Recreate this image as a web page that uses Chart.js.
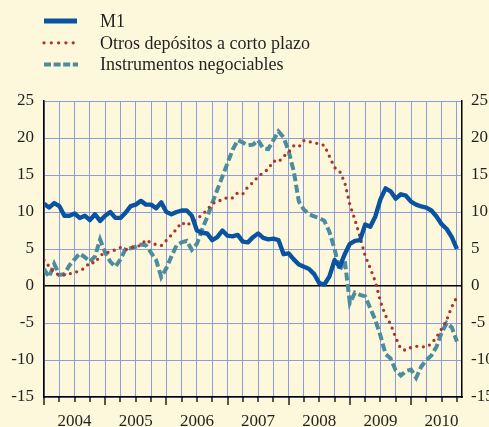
<!DOCTYPE html>
<html>
<head>
<meta charset="utf-8">
<script src="https://cdn.jsdelivr.net/npm/chart.js@4/dist/chart.umd.min.js"></script>
<style>
	body { margin: 0; background: #fdf8dc; }
	canvas { display: block; }
</style>
</head>
<body>
<canvas id="chart" width="489" height="427"></canvas>
<script>
// monthly data, Jan 2004 .. Oct 2010 (x = month index)
const years = ['2004', '2005', '2006', '2007', '2008', '2009', '2010'];
const yTicks = [-15, -10, -5, 0, 5, 10, 15, 20, 25];
const seriesNames = ['M1', 'Otros depósitos a corto plazo', 'Instrumentos negociables'];

const m1 = [
	11.1, 10.6, 11.2, 10.8, 9.5, 9.5, 9.8, 9.2, 9.5, 8.9, 9.7, 8.8,
	9.5, 10.0, 9.2, 9.2, 9.9, 10.8, 11.0, 11.5, 11.0, 11.0, 10.5, 11.3,
	10.0, 9.7, 10.0, 10.2, 10.2, 9.5, 7.5, 7.2, 7.1, 6.2, 6.6, 7.5,
	6.8, 6.7, 6.9, 6.0, 5.9, 6.6, 7.1, 6.5, 6.3, 6.4, 6.2, 4.3,
	4.4, 3.6, 2.9, 2.6, 2.3, 1.6, 0.4, 0.2, 1.3, 3.5, 2.6, 4.3,
	5.7, 6.1, 6.2, 8.3, 8.0, 9.4, 11.7, 13.2, 12.8, 11.8, 12.4, 12.2,
	11.4, 11.0, 10.75, 10.6, 10.2, 9.4, 8.35, 7.7, 6.6, 5.0
];
const otros = [
	3.5, 2.65, 1.85, 1.45, 1.5, 1.65, 1.8, 2.1, 2.4, 3.2, 3.1, 4.1,
	4.5, 4.6, 4.9, 5.2, 4.9, 5.2, 5.3, 5.5, 6.25, 5.8, 5.6, 5.45,
	6.15, 6.9, 7.7, 8.6, 8.15, 8.7, 9.1, 9.6, 10.3, 11.1, 11.5, 11.6,
	12.0, 11.9, 12.6, 12.45, 13.4, 14.0, 14.8, 15.3, 15.8, 16.9, 16.75, 17.5,
	18.1, 18.95, 18.8, 19.65, 19.5, 19.35, 19.2, 19.0, 17.5, 16.0, 15.5, 14.0,
	11.0, 8.95, 6.6, 4.1, 2.4, 0.6, -2.1, -4.0, -5.15, -7.0, -8.5, -8.7,
	-8.3, -8.15, -8.2, -8.25, -7.8, -6.9, -5.8, -4.6, -2.8, -1.5
];
const instrumentos = [
	2.3, 1.2, 3.0, 1.5, 1.6, 2.8, 3.6, 4.4, 3.9, 3.3, 4.0, 6.3,
	4.5, 3.3, 2.6, 3.6, 5.0, 5.1, 5.3, 5.6, 5.5, 4.5, 3.5, 1.2,
	2.4, 4.0, 5.5, 5.9, 6.1, 4.9, 5.7, 7.6, 9.3, 11.2, 13.0, 14.8,
	16.6, 18.4, 19.7, 19.4, 19.0, 19.1, 19.7, 18.6, 18.5, 19.7, 20.9, 20.1,
	18.2, 15.5, 11.4, 10.3, 9.7, 9.4, 9.2, 8.8, 7.3, 5.0, 2.1, 3.5,
	-2.3, -0.9, -1.2, -1.4, -3.0, -4.6, -6.7, -9.2, -9.8, -11.4, -12.1, -11.5,
	-11.3, -12.4, -10.9, -10.0, -9.4, -8.2, -6.3, -5.0, -5.6, -7.5
];

const gridBlue = '#8c9cdc';
const textColor = '#231f20';
const serif = { family: '"Liberation Serif", "Times New Roman", serif', size: 17 };

let quarterTicks = [];
for (let v = 0; v <= 81; v += 3) quarterTicks.push(v);

const toPoints = arr => arr.map((v, i) => ({ x: i, y: v }));

const bgPlugin = {
	id: 'bgPlugin',
	beforeDraw(chart) {
		const ctx = chart.ctx;
		ctx.save();
		ctx.fillStyle = '#fdf8dc';
		ctx.fillRect(0, 0, chart.width, chart.height);
		ctx.restore();
	}
};

const legendPlugin = {
	id: 'legendPlugin',
	afterDraw(chart) {
		const ctx = chart.ctx;
		chart.data.datasets.forEach((ds, i) => {
			const y = 21 + i * 21.8;
			ctx.save();
			ctx.strokeStyle = ds.borderColor;
			ctx.lineWidth = ds.legendWidth;
			ctx.lineCap = ds.borderCapStyle;
			ctx.setLineDash(ds.legendDash);
			ctx.beginPath();
			ctx.moveTo(44, y);
			ctx.lineTo(ds.legendEnd, y);
			ctx.stroke();
			ctx.restore();
			ctx.save();
			ctx.fillStyle = textColor;
			ctx.font = '18px ' + serif.family;
			ctx.textBaseline = 'middle';
			ctx.fillText(ds.label, 100, y + 1);
			ctx.restore();
		});
	}
};

// small tick marks under the bottom axis, longer at year boundaries
const tickPlugin = {
	id: 'tickPlugin',
	afterDraw(chart) {
		const ctx = chart.ctx;
		const x = chart.scales.x;
		const bottom = chart.chartArea.bottom;
		ctx.save();
		ctx.strokeStyle = '#000';
		ctx.lineWidth = 1.3;
		quarterTicks.forEach(v => {
			const px = Math.round(x.getPixelForValue(v));
			const len = v % 12 === 0 ? 8 : 5;
			ctx.beginPath();
			ctx.moveTo(px, bottom);
			ctx.lineTo(px, bottom + len);
			ctx.stroke();
		});
		ctx.restore();
	}
};

let config = {
	type: 'line',
	data: {
		datasets: [
			{
				label: seriesNames[0],
				data: toPoints(m1),
				borderColor: '#0a53a0',
				borderWidth: 4.4,
				borderCapStyle: 'butt',
				borderJoinStyle: 'round',
				legendWidth: 5,
				legendDash: [],
				legendEnd: 77
			},
			{
				label: seriesNames[1],
				data: toPoints(otros),
				borderColor: '#ae3328',
				borderWidth: 3.3,
				borderDash: [0, 6.6],
				borderCapStyle: 'round',
				legendWidth: 3.3,
				legendDash: [0, 7.3],
				legendEnd: 75
			},
			{
				label: seriesNames[2],
				data: toPoints(instrumentos),
				borderColor: '#4b8c9e',
				borderWidth: 4,
				borderDash: [8, 3.5],
				borderCapStyle: 'butt',
				legendWidth: 4,
				legendDash: [7, 2.6],
				legendEnd: 78
			}
		]
	},
	options: {
		responsive: false,
		animation: false,
		devicePixelRatio: 1,
		elements: {
			point: { radius: 0 },
			line: { tension: 0 }
		},
		layout: { padding: { top: 101, left: 0, right: 0, bottom: 0 } },
		plugins: {
			legend: { display: false },
			tooltip: { enabled: false }
		},
		scales: {
			x: {
				type: 'linear',
				min: 0,
				max: 82,
				afterBuildTicks: axis => { axis.ticks = quarterTicks.map(v => ({ value: v })); },
				afterFit: axis => { axis.height = 30; },
				grid: { color: gridBlue, lineWidth: 1, drawTicks: false },
				border: { color: '#000', width: 1.5 },
				ticks: {
					autoSkip: false,
					maxRotation: 0,
					padding: 14,
					font: serif,
					color: textColor,
					callback: v => v % 12 === 6 ? years[(v - 6) / 12] : ''
				}
			},
			y: {
				position: 'left',
				min: -15,
				max: 25,
				afterBuildTicks: axis => { axis.ticks = yTicks.map(v => ({ value: v })); },
				afterFit: axis => { axis.width = 44; },
				grid: {
					color: c => (c.tick && c.tick.value === 0) ? '#000' : gridBlue,
					lineWidth: c => (c.tick && c.tick.value === 0) ? 1.6 : 1,
					drawTicks: false
				},
				border: { color: '#000', width: 1.5 },
				ticks: { padding: 10, font: serif, color: textColor }
			},
			y2: {
				position: 'right',
				min: -15,
				max: 25,
				afterBuildTicks: axis => { axis.ticks = yTicks.map(v => ({ value: v })); },
				afterFit: axis => { axis.width = 27; },
				grid: { display: false, drawTicks: false },
				border: { color: '#000', width: 1.5 },
				ticks: { padding: 9, font: serif, color: textColor }
			}
		}
	},
	plugins: [bgPlugin, legendPlugin, tickPlugin]
};

window.addEventListener('load', () => {
	const ctx = document.getElementById('chart').getContext('2d');
	const myChart = new Chart(ctx, config);
});
</script>
</body>
</html>
